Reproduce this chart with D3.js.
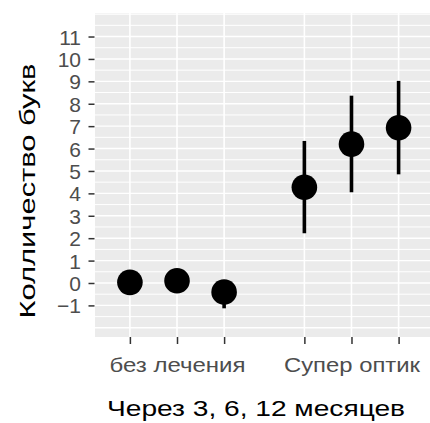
<!DOCTYPE html>
<html>
<head>
<meta charset="utf-8">
<script src="https://cdn.jsdelivr.net/npm/d3@7"></script>
<style>
  body { margin: 0; background: #fff; }
  svg { display: block; font-family: "Liberation Sans", Arial, sans-serif; }
</style>
</head>
<body>
<svg id="chart"></svg>
<script>
// Data
const groups = ["без лечения", "Супер оптик"];
const months = [3, 6, 12];
const offsets = [-0.27, 0, 0.27];          // dodge position for 3, 6, 12 months
const means = [0.03, 0.1, -0.4, 4.27, 6.2, 6.93];
const lower = [-0.35, -0.3, -1.13, 2.22, 4.05, 4.85];
const upper = [0.4, 0.45, 0.05, 6.34, 8.36, 9.02];
const yTicks = d3.range(-1, 12);

const data = [];
groups.forEach((g, gi) => {
    months.forEach((m, mi) => {
        const i = gi * months.length + mi;
        data.push({ group: g, month: m, pos: gi + 1 + offsets[mi], mean: means[i], lo: lower[i], hi: upper[i], mid: mi === 1 });
    });
});

// Dimensions
const width = 430, height = 423;
const panel = { left: 95, right: 430, top: 13, bottom: 337 };

const svg = d3.select("#chart").attr("width", width).attr("height", height);

// Scales
const xScale = d3.scaleLinear().domain([0.53, 2.45]).range([panel.left, panel.right]);
const yScale = d3.scaleLinear().domain([-2.41, 12.05]).range([panel.bottom, panel.top]);

// Panel background
svg.append("defs").append("clipPath").attr("id", "clip")
    .append("rect")
    .attr("x", panel.left).attr("y", panel.top)
    .attr("width", panel.right - panel.left).attr("height", panel.bottom - panel.top);

const plot = svg.append("g").attr("clip-path", "url(#clip)");

plot.append("rect")
    .attr("x", panel.left).attr("y", panel.top)
    .attr("width", panel.right - panel.left).attr("height", panel.bottom - panel.top)
    .attr("fill", "#EBEBEB");

// Grid lines (major at integers, minor at halves)
const hLines = d3.range(-2.5, 12.5, 0.5);
plot.selectAll(".hgrid")
    .data(hLines)
    .enter().append("line")
    .attr("x1", panel.left).attr("x2", panel.right)
    .attr("y1", d => yScale(d)).attr("y2", d => yScale(d))
    .attr("stroke", "#fff")
    .attr("stroke-width", d => Number.isInteger(d) ? 1.4 : 1.0);

plot.selectAll(".vgrid")
    .data(data)
    .enter().append("line")
    .attr("x1", d => xScale(d.pos)).attr("x2", d => xScale(d.pos))
    .attr("y1", panel.top).attr("y2", panel.bottom)
    .attr("stroke", "#fff")
    .attr("stroke-width", 1.6);

// Error bars
plot.selectAll(".err")
    .data(data)
    .enter().append("line")
    .attr("x1", d => xScale(d.pos)).attr("x2", d => xScale(d.pos))
    .attr("y1", d => yScale(d.lo)).attr("y2", d => yScale(d.hi))
    .attr("stroke", "#000")
    .attr("stroke-width", 3.6);

// Points
plot.selectAll("circle")
    .data(data)
    .enter().append("circle")
    .attr("cx", d => xScale(d.pos))
    .attr("cy", d => yScale(d.mean))
    .attr("r", 12.8)
    .attr("fill", "#000");

// Axes
const yAxis = svg.append("g")
    .attr("transform", `translate(${panel.left - 0.5},0)`)
    .call(d3.axisLeft(yScale).tickValues(yTicks).tickSize(6).tickPadding(7.5).tickFormat(d3.format("d")));

const xAxis = svg.append("g")
    .attr("transform", `translate(0,${panel.bottom})`)
    .call(d3.axisBottom(xScale)
        .tickValues(data.map(d => d.pos))
        .tickSize(7)
        .tickPadding(13.5)
        .tickFormat((p, i) => data[i].mid ? data[i].group : ""));

[yAxis, xAxis].forEach(ax => {
    ax.select(".domain").remove();
    ax.selectAll(".tick line").attr("stroke", "#333").attr("stroke-width", 1.5);
    ax.selectAll(".tick text").attr("fill", "#4D4D4D").attr("font-family", "Liberation Sans, Arial, sans-serif");
});

yAxis.selectAll(".tick text").attr("font-size", 21).attr("dy", "0.36em");
xAxis.selectAll(".tick text")
    .attr("font-size", 21)
    .filter(function() { return this.textContent !== ""; })
    .attr("textLength", 136)
    .attr("lengthAdjust", "spacingAndGlyphs");

// Axis titles
svg.append("text")
    .attr("x", 256)
    .attr("y", 416)
    .attr("text-anchor", "middle")
    .attr("font-size", 22)
    .attr("textLength", 298)
    .attr("lengthAdjust", "spacingAndGlyphs")
    .attr("fill", "#000")
    .text("Через 3, 6, 12 месяцев");

svg.append("text")
    .attr("transform", "rotate(-90)")
    .attr("x", -191)
    .attr("y", 35)
    .attr("text-anchor", "middle")
    .attr("font-size", 22)
    .attr("textLength", 255)
    .attr("lengthAdjust", "spacingAndGlyphs")
    .attr("fill", "#000")
    .text("Колличество букв");
</script>
</body>
</html>
